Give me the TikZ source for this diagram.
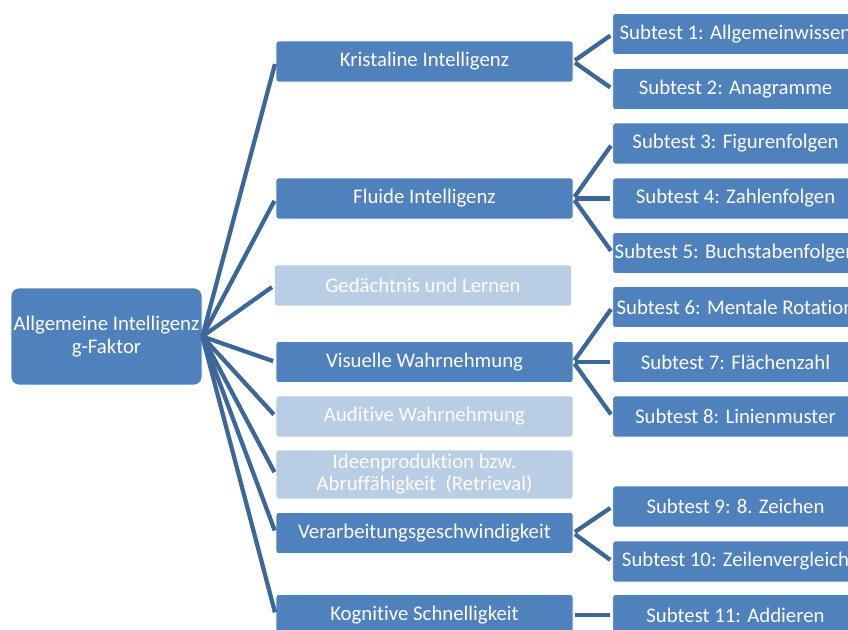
\documentclass[tikz,border=0pt]{standalone}
\usepackage{fontspec}
\setmainfont{Carlito}[Ligatures=NoCommon]
\definecolor{boxblue}{HTML}{4F81BD}
\definecolor{paleblue}{HTML}{B9CDE5}
\definecolor{linkblue}{HTML}{3C6797}

\begin{document}
\begin{tikzpicture}[x=0.75pt,y=-0.75pt,
    box/.style={fill=boxblue,draw=white,line width=0.5pt,rounded corners=2pt,
      text=white,align=center,inner sep=0pt,minimum height=30.75pt,
      font=\fontsize{15.6}{17.5}\selectfont},
    factor/.style={box,minimum width=222.75pt},
    pale/.style={factor,fill=paleblue},
    subtest/.style={box,minimum width=184pt},
    link/.style={draw=linkblue,line width=3.2pt,shorten >=2pt}]
  \useasboundingbox (0,0) rectangle (848,629);
  \clip (0,0) rectangle (848,629);

  % g-Faktor
  \node[box,minimum width=143.25pt,minimum height=72.75pt,rounded corners=6pt]
    (g) at (106.5,336.5) {Allgemeine Intelligenz\\g-Faktor};

  % Faktoren
  \node[factor] (kri) at (424.5,61.5) {Kristaline Intelligenz};
  \node[factor] (flu) at (424.5,198.5) {Fluide Intelligenz};
  \node[pale]   (ged) at (423,285.5) {Gedächtnis und Lernen};
  \node[factor] (vis) at (424.5,362) {Visuelle Wahrnehmung};
  \node[pale]   (aud) at (424.5,416.5) {Auditive Wahrnehmung};
  \node[pale,minimum height=36.75pt,font=\fontsize{15.6}{16.5}\selectfont]
    (ide) at (424.5,474.5) {Ideenproduktion bzw.\\Abruffähigkeit~ (Retrieval)};
  \node[factor] (ver) at (424.5,533) {Verarbeitungsgeschwindigkeit};
  \node[factor] (kog) at (424.5,615) {Kognitive Schnelligkeit};

  % Subtests
  \node[subtest] (s1)  at (735.5,34)    {Subtest 1: Allgemeinwissen};
  \node[subtest] (s2)  at (735.5,89)    {Subtest 2: Anagramme};
  \node[subtest] (s3)  at (735.5,143.5) {Subtest 3: Figurenfolgen};
  \node[subtest] (s4)  at (735.5,198.5) {Subtest 4: Zahlenfolgen};
  \node[subtest] (s5)  at (735.5,253)   {Subtest 5: Buchstabenfolgen};
  \node[subtest] (s6)  at (735.5,307)   {Subtest 6: Mentale Rotation};
  \node[subtest] (s7)  at (735.5,362)   {Subtest 7: Flächenzahl};
  \node[subtest] (s8)  at (735.5,416.5) {Subtest 8: Linienmuster};
  \node[subtest] (s9)  at (735.5,506.5) {Subtest 9: 8. Zeichen};
  \node[subtest] (s10) at (735.5,561.5) {Subtest 10: Zeilenvergleich};
  \node[subtest] (s11) at (735.5,615)   {Subtest 11: Addieren};

  % Verbindungen
  \foreach \f in {kri,flu,ged,vis,aud,ide,ver,kog}
    \draw[link] (g.east) -- (\f.west);
  \foreach \f/\s in {kri/s1,kri/s2,flu/s3,flu/s4,flu/s5,vis/s6,vis/s7,vis/s8,
                     ver/s9,ver/s10,kog/s11}
    \draw[link,shorten <=1.5pt] (\f.east) -- (\s.west);
\end{tikzpicture}
\end{document}
